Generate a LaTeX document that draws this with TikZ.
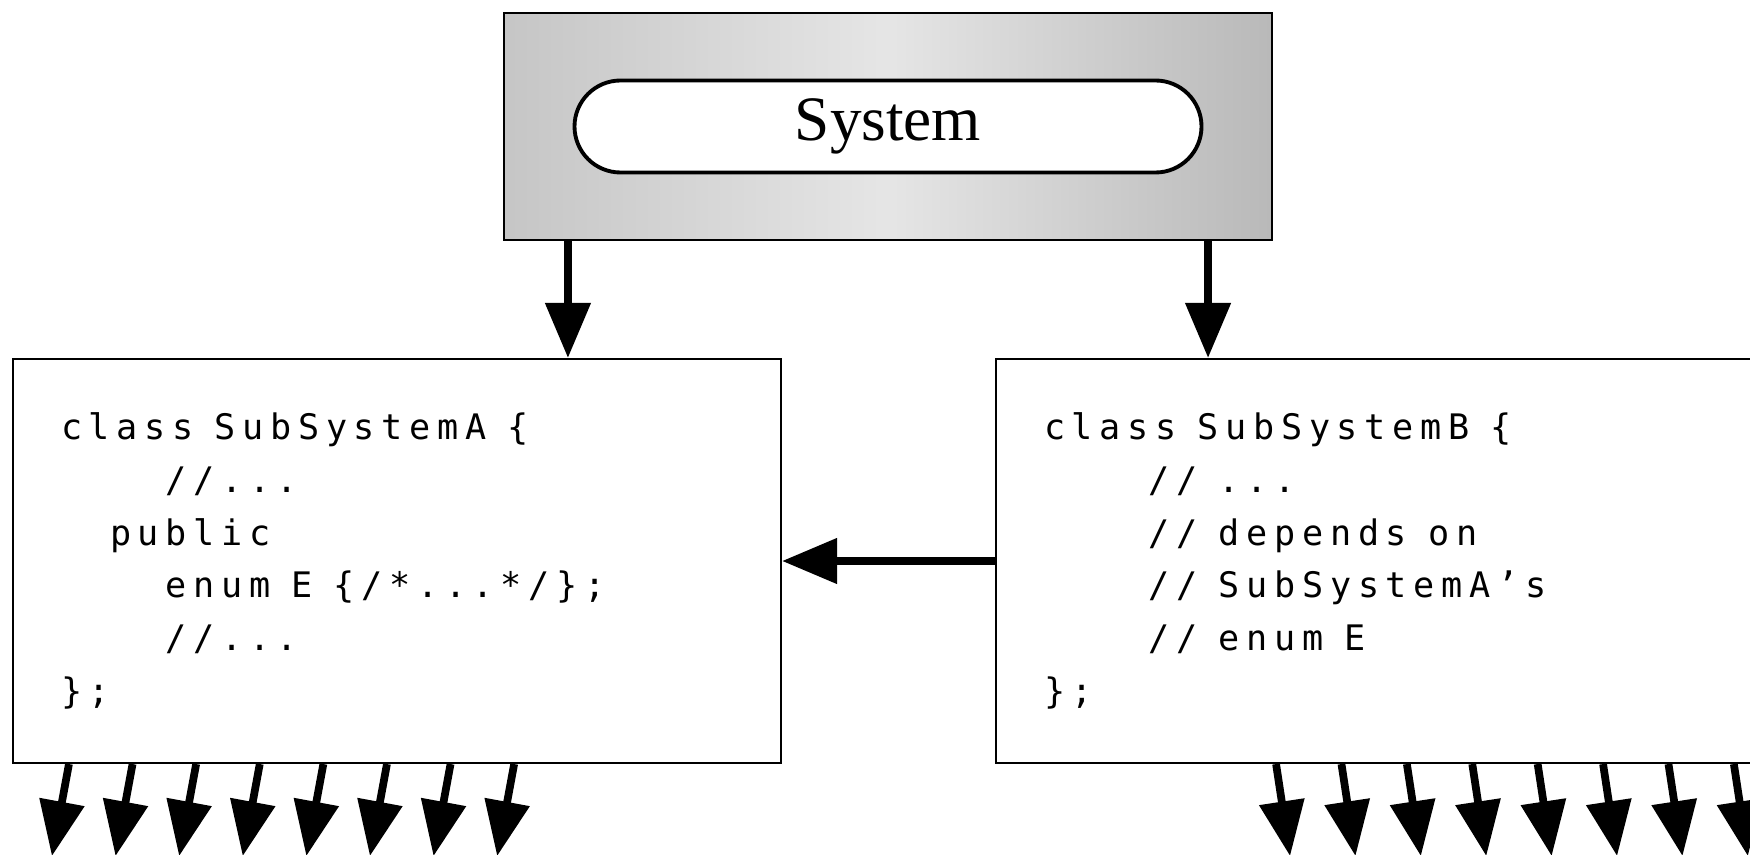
\documentclass[tikz,border=0pt]{standalone}
\usepackage{fontspec}
\setmainfont{Liberation Serif}
\newfontfamily\codefont[LetterSpace=19]{DejaVu Sans Mono}
\usepackage{tikz}
\usetikzlibrary{positioning,arrows.meta}

\newcommand{\ws}{\hphantom{0}}
\tikzset{
  fat/.style={line width=2.2pt,-{Triangle[length=5.5mm,width=4.4mm]}},
  codebox/.style={draw,line width=0.6pt,align=left,inner xsep=4.8mm,
    minimum height=4.04cm,font=\fontsize{10}{15}\codefont},
}

\begin{document}
\begin{tikzpicture}
\useasboundingbox (0,0) rectangle (17.5,-8.55);
\node (sys) [draw,line width=0.6pt,minimum width=7.68cm,minimum height=2.27cm,
  left color=gray!45,right color=gray!55,middle color=gray!20] at (8.88,-1.265) {};
\node (pill) [draw,line width=1.1pt,fill=white,rounded corners=4.6mm,
  minimum width=6.27cm,minimum height=0.92cm,font=\fontsize{18}{20}\selectfont] at (sys.center) {System};
\node (subA) [codebox,text width=6.72cm] at (3.97,-5.61) {%
class\ws SubSystemA\ws\{\\
\hphantom{0000}//...\\
\hphantom{00}public\\
\hphantom{0000}enum\ws E\ws\{/*...*/\};\\
\hphantom{0000}//...\\
\};};
\node (subB) [codebox,text width=7.6cm,right=2.13cm of subA] {%
class\ws SubSystemB\ws\{\\
\hphantom{0000}//\ws...\\
\hphantom{0000}//\ws depends\ws on\\
\hphantom{0000}//\ws SubSystemA’s\\
\hphantom{0000}//\ws enum\ws E\\
\};};
% system down to the two subsystems
\draw[fat] ([xshift=6.5mm]sys.south west) -- ([xshift=6.5mm]sys.south west |- subA.north);
\draw[fat] ([xshift=-6.5mm]sys.south east) -- ([xshift=-6.5mm]sys.south east |- subB.north);
% B depends on A
\draw[fat] (subB.west) -- (subA.east);
% fan out below
\foreach \i in {0,...,7}{
  \draw[fat] ([xshift=5.7mm+\i*6.36mm]subA.south west) -- ++(-0.17,-0.92);
  \draw[fat] ([xshift=28.1mm+\i*6.54mm]subB.south west) -- ++(0.14,-0.92);
}
\end{tikzpicture}
\end{document}
